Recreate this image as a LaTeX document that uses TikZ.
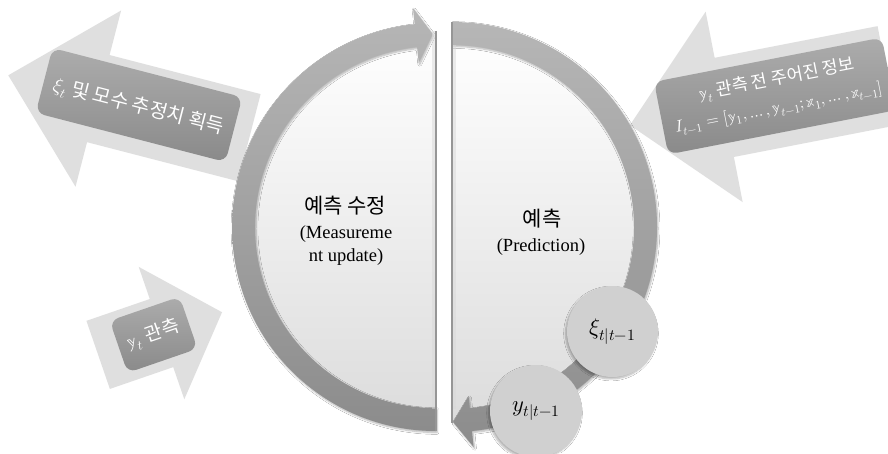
\documentclass[tikz,border=0pt]{standalone}
\usepackage{fontspec}
\usepackage{unicode-math}
\setmainfont{Liberation Serif}
\setmathfont{Latin Modern Math}
\newfontfamily\krfont{Noto Sans CJK KR}
\newcommand\hangul[1]{{\krfont #1}}
\usetikzlibrary{calc,shadows.blur}

\definecolor{bgarrow}{RGB}{223,223,223}
\definecolor{boxtop}{RGB}{172,172,172}
\definecolor{boxbot}{RGB}{138,138,138}
\definecolor{ringtop}{RGB}{182,182,182}
\definecolor{ringbot}{RGB}{140,140,140}
\definecolor{halfbot}{RGB}{220,220,220}
\definecolor{bubble}{RGB}{208,208,208}
\definecolor{edgeline}{RGB}{150,150,150}

\tikzset{
  bigarrow/.style={fill=bgarrow},
  labelbox/.style={rectangle, rounded corners=9pt, top color=boxtop, bottom color=boxbot,
    draw=none, inner sep=0pt},
  boxtext/.style={text=white, inner sep=0pt},
  ring/.style={top color=ringtop, bottom color=ringbot,
    blur shadow={shadow xshift=1pt, shadow yshift=-1.5pt, shadow opacity=30, shadow blur steps=6}},
  halfdisk/.style={top color=white, bottom color=halfbot},
  bubblenode/.style={circle, fill=bubble, inner sep=0pt,
    blur shadow={shadow xshift=-1.5pt, shadow yshift=-2pt, shadow opacity=30, shadow blur steps=6}},
  titletext/.style={font=\krfont\fontsize{21}{24}\selectfont, inner sep=0pt},
  subtext/.style={font=\fontsize{18.5}{23.5}\selectfont, align=center, inner sep=0pt},
}

\begin{document}
\begin{tikzpicture}[x=1pt, y=1pt]
  \useasboundingbox (0,0) rectangle (888,453);
  \fill[white] (0,0) rectangle (888,453);
  \clip (0,0) rectangle (888,453);

  % ---- input / output arrows with their labels ----
  % estimates going out (top left)
  \begin{scope}[shift={(139,348)}, rotate=-14.5, transform shape]
    \fill[bigarrow] (-134,-4) -- (-41,87) -- (-41,41) -- (115,41) -- (115,-49)
      -- (-41,-49) -- (-41,-95) -- cycle;
    \node[labelbox, minimum width=196pt, minimum height=67pt] (outbox) at (0,0) {};
    \node[boxtext, font=\fontsize{19.5}{22}\selectfont] (outtext) at (0,-2)
      {$\xi_t$ \hangul{및 모수 추정치 획득}};
  \end{scope}

  % information set coming in (top right)
  \begin{scope}[shift={(775,357)}, rotate=11, transform shape]
    \fill[bigarrow] (-148,-1) -- (-52,96) -- (-52,49) -- (114,49) -- (114,-52)
      -- (-52,-52) -- (-52,-98) -- cycle;
    \node[labelbox, minimum width=232pt, minimum height=74pt] (infobox) at (0,0) {};
    \node[boxtext, font=\fontsize{17.5}{20}\selectfont] (infoone) at (5,16)
      {$\symbb{y}_t$ \hangul{관측 전 주어진 정보}};
    \node[boxtext, font=\fontsize{16.5}{19}\selectfont] (infotwo) at (2,-13)
      {$I_{t-1}=[\symbb{y}_1,\ldots,\symbb{y}_{t-1};\symbb{x}_1,\ldots,\symbb{x}_{t-1}]$};
  \end{scope}

  % observation coming in (bottom left)
  \begin{scope}[shift={(153,117)}, rotate=19, transform shape]
    \fill[bigarrow] (-58,36) -- (9,36) -- (9,70) -- (73,0) -- (9,-70) -- (9,-36)
      -- (-58,-36) -- cycle;
    \node[labelbox, minimum width=74pt, minimum height=55pt] (obsbox) at (1,1) {};
    \node[boxtext, font=\fontsize{19}{22}\selectfont] (obstext) at (1,1)
      {$\symbb{y}_t$ \hangul{관측}};
  \end{scope}

  % ---- the two half cycles ----
  \coordinate (cl) at (436,226);
  \coordinate (cr) at (452,226);

  \shade[halfdisk] ($(cl)+(0,195)$) arc[start angle=90, end angle=270, radius=195] -- cycle;
  \shade[halfdisk] ($(cr)+(0,195)$) arc[start angle=90, end angle=-90, radius=195] -- cycle;

  % measurement update arc, arrow pointing right at the top
  \shade[ring] ($(cl)+(270:204)$) arc[start angle=270, end angle=96, radius=204]
    -- ($(cl)+(96:220)$) -- ($(cl)+(91:193)$) -- ($(cl)+(96:165)$) -- ($(cl)+(96:181)$)
    arc[start angle=96, end angle=270, radius=181] -- cycle;

  % prediction arc, arrow pointing left at the bottom
  \shade[ring] ($(cr)+(90:205)$) arc[start angle=90, end angle=-84.4, radius=205]
    -- ($(cr)+(-84.4:221)$) -- ($(cr)+(-89.7:195)$) -- ($(cr)+(-84.4:170)$) -- ($(cr)+(-84.4:182)$)
    arc[start angle=-84.4, end angle=90, radius=182] -- cycle;

  % straight edges of the halves
  \draw[gray!30, line width=3pt, opacity=.5] ($(cl)+(-2.5,196)$) -- ($(cl)+(-2.5,-182)$);
  \draw[gray!30, line width=3pt, opacity=.5] ($(cr)+(2.5,182)$) -- ($(cr)+(2.5,-182)$);
  \draw[edgeline, line width=1.2pt] ($(cl)+(0,196)$) -- ($(cl)+(0,-204)$);
  \draw[edgeline, line width=1.2pt] ($(cr)+(0,205)$) -- ($(cr)+(0,-196)$);

  % ---- labels of the halves ----
  \node[titletext] (updtitle) at (345,247) {예측 수정};
  \node[subtext] (updsub) at (346,207.5) {(Measureme\\nt update)};
  \node[titletext] (predtitle) at (542,234) {예측};
  \node[subtext] (predsub) at (541,206) {(Prediction)};

  % ---- predicted quantities ----
  \node[bubblenode, minimum size=91pt, font=\fontsize{22.5}{26}\selectfont] (xipred) at (612.5,121.5)
    {$\xi_{t|t-1}$};
  \node[bubblenode, minimum size=92pt, font=\fontsize{22.5}{26}\selectfont] (ypred) at (536,42)
    {$y_{t|t-1}$};
\end{tikzpicture}
\end{document}
